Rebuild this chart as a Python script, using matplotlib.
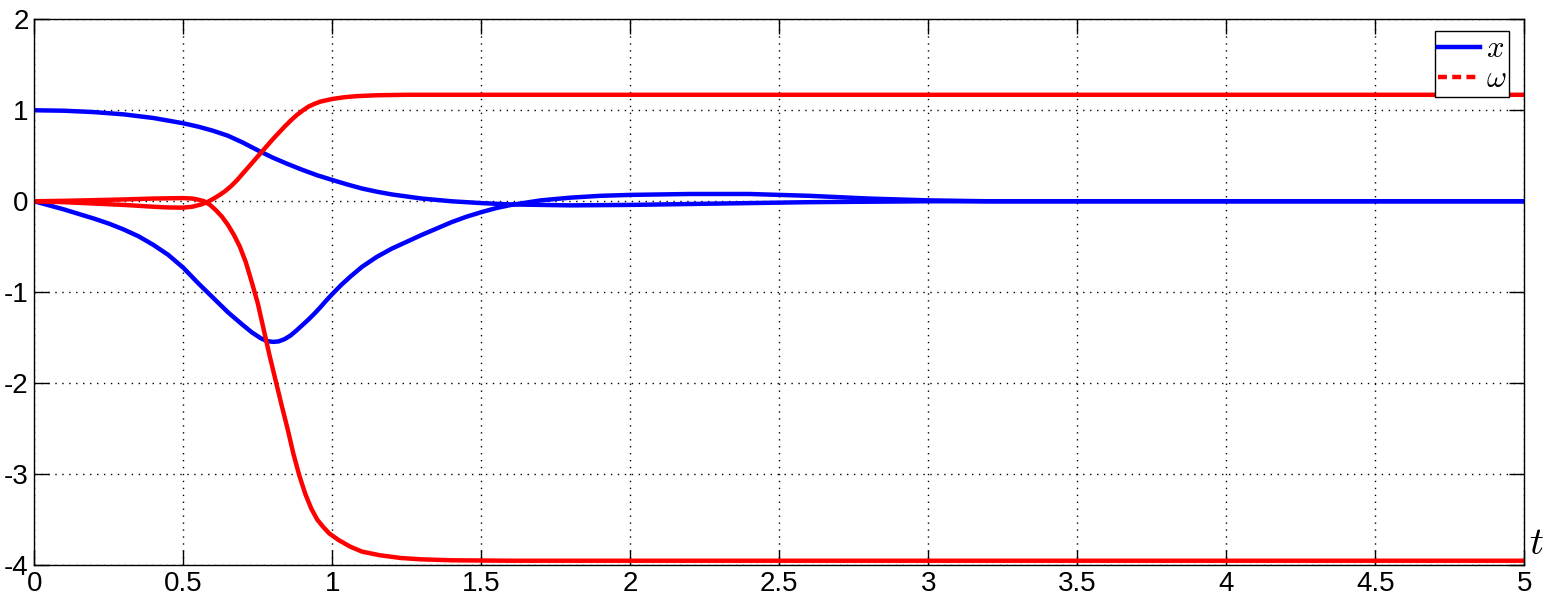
import numpy as np
import matplotlib
matplotlib.use('Agg')
import matplotlib.pyplot as plt
from matplotlib.lines import Line2D

# values
t_x1 = [0, 0.1, 0.2, 0.3, 0.4, 0.5, 0.55, 0.6, 0.65, 0.7, 0.75, 0.8, 0.85, 0.9, 0.95, 1.0,
        1.05, 1.1, 1.15, 1.2, 1.3, 1.4, 1.5, 1.6, 1.8, 2.0, 2.2, 2.4, 2.6, 2.8, 3.0, 5.0]
x1 = [1.0, 0.995, 0.98, 0.955, 0.915, 0.857, 0.82, 0.775, 0.72, 0.645, 0.56, 0.48, 0.41, 0.345,
      0.285, 0.234, 0.185, 0.14, 0.105, 0.075, 0.03, 0.0, -0.02, -0.035, -0.045, -0.04, -0.03,
      -0.02, -0.01, -0.005, 0.0, 0.0]

t_x2 = [0, 0.05, 0.1, 0.15, 0.2, 0.25, 0.3, 0.35, 0.4, 0.45, 0.5, 0.55, 0.6, 0.65, 0.7, 0.73,
        0.76, 0.78, 0.8, 0.82, 0.84, 0.86, 0.88, 0.9, 0.92, 0.94, 0.96, 0.98, 1.0, 1.03, 1.06,
        1.1, 1.15, 1.2, 1.25, 1.3, 1.35, 1.4, 1.45, 1.5, 1.55, 1.6, 1.7, 1.8, 1.9, 2.0, 2.2,
        2.4, 2.6, 2.8, 3.0, 3.2, 5.0]
x2 = [0, -0.045, -0.09, -0.14, -0.19, -0.245, -0.31, -0.385, -0.48, -0.59, -0.73, -0.90, -1.06,
      -1.22, -1.36, -1.44, -1.505, -1.535, -1.545, -1.54, -1.515, -1.475, -1.42, -1.36, -1.30,
      -1.235, -1.165, -1.09, -1.02, -0.92, -0.83, -0.72, -0.61, -0.52, -0.445, -0.37, -0.30,
      -0.23, -0.17, -0.12, -0.075, -0.04, 0.01, 0.04, 0.06, 0.07, 0.08, 0.08, 0.06, 0.03, 0.01,
      0.0, 0.0]

t_w1 = [0, 0.1, 0.2, 0.3, 0.4, 0.45, 0.5, 0.53, 0.56, 0.58, 0.6, 0.62, 0.64, 0.66, 0.68, 0.7,
        0.72, 0.74, 0.76, 0.78, 0.8, 0.82, 0.84, 0.86, 0.88, 0.9, 0.92, 0.94, 0.96, 0.98, 1.0,
        1.04, 1.08, 1.15, 1.25, 1.4, 5.0]
w1 = [0, -0.01, -0.025, -0.04, -0.06, -0.068, -0.07, -0.06, -0.035, -0.01, 0.025, 0.065, 0.11,
      0.165, 0.23, 0.305, 0.38, 0.455, 0.53, 0.605, 0.68, 0.75, 0.82, 0.885, 0.945, 0.995, 1.04,
      1.07, 1.095, 1.11, 1.124, 1.143, 1.155, 1.165, 1.17, 1.17, 1.17]

t_w2 = [0, 0.1, 0.2, 0.3, 0.4, 0.5, 0.53, 0.55, 0.57, 0.59, 0.61, 0.63, 0.65, 0.67, 0.69, 0.71,
        0.73, 0.75, 0.77, 0.79, 0.81, 0.83, 0.85, 0.87, 0.89, 0.91, 0.93, 0.95, 0.97, 0.99,
        1.02, 1.06, 1.1, 1.16, 1.23, 1.3, 1.4, 1.6, 5.0]
w2 = [0, 0.005, 0.012, 0.02, 0.03, 0.035, 0.03, 0.018, 0.0, -0.04, -0.1, -0.17, -0.26, -0.37,
      -0.5, -0.67, -0.89, -1.12, -1.41, -1.70, -1.97, -2.24, -2.5, -2.78, -3.02, -3.22, -3.38,
      -3.50, -3.58, -3.65, -3.72, -3.795, -3.85, -3.89, -3.92, -3.935, -3.945, -3.95, -3.95]

x_ticks = [0, 0.5, 1, 1.5, 2, 2.5, 3, 3.5, 4, 4.5, 5]
y_ticks = [-4, -3, -2, -1, 0, 1, 2]

plt.rcParams['font.family'] = 'Liberation Sans'
plt.rcParams['mathtext.fontset'] = 'cm'
plt.rcParams['axes.unicode_minus'] = False

fig = plt.figure(figsize=(15.5, 6.02), dpi=100)
ax = fig.add_axes([0.0221, 0.061, 0.9613, 0.907])

lw = 3.2
ax.plot(t_x1, x1, color='#0000ff', lw=lw)
ax.plot(t_x2, x2, color='#0000ff', lw=lw)
ax.plot(t_w1, w1, color='#ff0000', lw=lw)
ax.plot(t_w2, w2, color='#ff0000', lw=lw)

ax.set_xlim(0, 5)
ax.set_ylim(-4, 2)
ax.set_xticks(x_ticks)
ax.set_xticklabels(['0', '0.5', '1', '1.5', '2', '2.5', '3', '3.5', '4', '4.5', '5'])
ax.set_yticks(y_ticks)
ax.set_yticklabels([str(v) for v in y_ticks])
ax.tick_params(direction='in', length=11, width=1, labelsize=20, top=True, right=True,
               pad=4)
ax.grid(True, color='black', linestyle=(0, (1, 4)), linewidth=1)
for s in ax.spines.values():
    s.set_linewidth(1)
    s.set_color('black')

ax.text(1.003, 0.006, '$t$', transform=ax.transAxes, fontsize=28, ha='left', va='bottom')

handles = [Line2D([], [], color='#0000ff', lw=lw),
           Line2D([], [], color='#ff0000', lw=lw, linestyle=(0, (2, 1.2)))]
leg = ax.legend(handles, ['$x$', r'$\omega$'], loc='upper right',
                bbox_to_anchor=(0.99, 0.979), borderaxespad=0, fontsize=22,
                fancybox=False, framealpha=1, edgecolor='black', handlelength=1.35,
                handleheight=0.6, handletextpad=0.2, borderpad=0.1, labelspacing=0.0)
leg.get_frame().set_linewidth(1)

fig.savefig('out.png', dpi=100)
